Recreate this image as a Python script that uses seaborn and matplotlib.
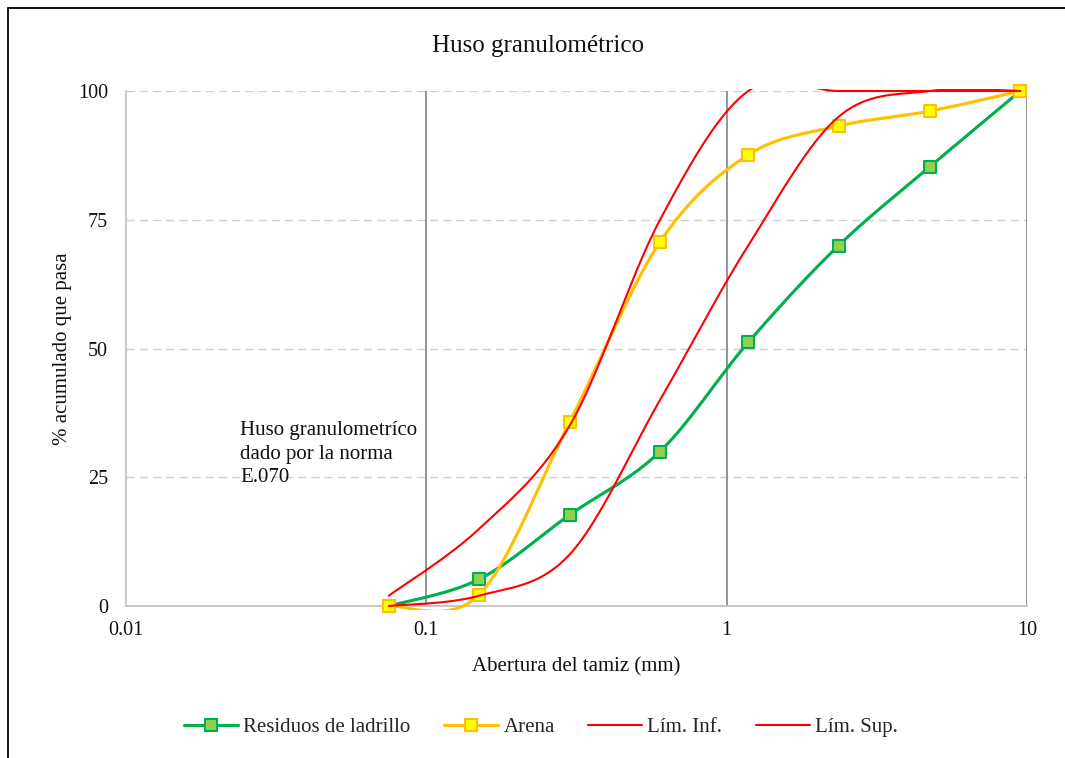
import numpy as np
import pandas as pd
import matplotlib
matplotlib.use("Agg")
import matplotlib.pyplot as plt
from matplotlib.lines import Line2D
from matplotlib.transforms import Bbox, TransformedBbox
import seaborn as sns

# Sieve openings (mm) and cumulative % passing
tamiz = [0.075, 0.15, 0.3, 0.6, 1.18, 2.36, 4.75, 9.5]
ladrillo = [0.0, 5.2, 17.7, 30.0, 51.2, 70.0, 85.3, 100.0]
arena = [0.0, 2.2, 35.7, 70.7, 87.6, 93.2, 96.1, 100.0]
lim_inf = [0.0, 2.0, 10.0, 40.0, 70.0, 95.0, 100.0, 100.0]
lim_sup = [2.0, 15.0, 35.0, 75.0, 100.0, 100.0, 100.0, 100.0]

x_ticks = [0.01, 0.1, 1, 10]
x_tick_labels = ["0.01", "0.1", "1", "10"]
y_ticks = [0, 25, 50, 75, 100]

sns.set_theme(style="white")
plt.rcParams["font.family"] = ["Liberation Serif", "DejaVu Serif"]


def smooth_curve(x, y, n=60):
    """Cubic Bezier smoothing through the points (log-x space)."""
    P = np.column_stack([np.log10(x), np.asarray(y, float)])
    segs = []
    for i in range(len(P) - 1):
        p0 = P[i - 1] if i > 0 else P[i]
        p1, p2 = P[i], P[i + 1]
        p3 = P[i + 2] if i + 2 < len(P) else P[i + 1]
        c1 = p1 + (p2 - p0) / 6.0
        c2 = p2 - (p3 - p1) / 6.0
        t = np.linspace(0, 1, n)[:, None]
        seg = ((1 - t) ** 3) * p1 + 3 * ((1 - t) ** 2) * t * c1 \
            + 3 * (1 - t) * (t ** 2) * c2 + (t ** 3) * p2
        segs.append(seg if i == 0 else seg[1:])
    pts = np.vstack(segs)
    return pd.DataFrame({"x": 10 ** pts[:, 0], "y": pts[:, 1]})


fig = plt.figure(figsize=(10.65, 7.58), dpi=100)
ax = fig.add_axes([126 / 1065, 1 - 606 / 758, 901 / 1065, 515 / 758])
ax.set_xscale("log")
ax.set_xlim(0.01, 10)
ax.set_ylim(0, 100)

# plot-area clip, slightly padded so lines on the edges stay whole
clip = TransformedBbox(Bbox([[0, -0.007], [1, 1.004]]), ax.transAxes)

# grid
for yv in y_ticks[1:]:
    ax.axhline(yv, color="#CFCFCF", lw=1.0, ls=(0, (6, 3.5)), zorder=0)
for xv in x_ticks[1:]:
    ax.axvline(xv, color="#8C8C8C", lw=1.3, zorder=0.5)

for side in ["top", "right"]:
    ax.spines[side].set_visible(False)
for side in ["left", "bottom"]:
    ax.spines[side].set_color("#C4C4C4")
    ax.spines[side].set_linewidth(1.3)

series = [
    ("Residuos de ladrillo", ladrillo, "#00B050", "#92D050", 2.25, True),
    ("Arena", arena, "#FFC000", "#FFFF00", 2.25, True),
    ("Lím. Inf.", lim_inf, "#FF0000", None, 1.5, False),
    ("Lím. Sup.", lim_sup, "#FF0000", None, 1.5, False),
]

handles = []
for k, (name, vals, col, fill, lw, mk) in enumerate(series):
    curve = smooth_curve(tamiz, vals)
    n_before = len(ax.lines)
    sns.lineplot(data=curve, x="x", y="y", ax=ax, color=col, lw=lw,
                 sort=False, estimator=None, zorder=3 + k)
    for ln in ax.lines[n_before:]:
        ln.set_clip_box(clip)
    if mk:
        sns.scatterplot(x=tamiz, y=vals, ax=ax, marker="s", s=80,
                        color=fill, edgecolor=col, linewidth=1.5,
                        zorder=3.5 + k, clip_on=False)
        handles.append(Line2D([], [], color=col, lw=lw, marker="s",
                              markersize=8.5, markerfacecolor=fill,
                              markeredgecolor=col, markeredgewidth=1.5,
                              label=name))
    else:
        handles.append(Line2D([], [], color=col, lw=lw, label=name))

ax.set_xticks(x_ticks)
ax.set_xticklabels(x_tick_labels)
ax.xaxis.set_minor_locator(matplotlib.ticker.NullLocator())
ax.set_yticks(y_ticks)
ax.tick_params(axis="x", length=0, pad=11, labelsize=14.5, colors="#111111")
ax.tick_params(axis="y", length=0, pad=13, labelsize=14.5, colors="#111111")

ax.set_xlabel("Abertura del tamiz (mm)", fontsize=15, labelpad=12,
              color="#111111")
ax.set_ylabel("% acumulado que pasa", fontsize=15, labelpad=4,
              color="#111111")

fig.text(538 / 1065, 1 - 46 / 758, "Huso granulométrico", fontsize=18,
         ha="center", va="center", color="#111111")

ax.text(0.1265, 0.295, "Huso granulometríco\ndado por la norma\nE.070",
        transform=ax.transAxes, fontsize=15, ha="left", va="center",
        linespacing=1.3, color="#111111")

fig.legend(handles=handles, loc="center", bbox_to_anchor=(0.508, 0.04),
           ncol=4, frameon=False, fontsize=15, handlelength=2.6,
           handletextpad=0.25, columnspacing=1.6)

# chart area border
fig.add_artist(Line2D([8 / 1065, 8 / 1065], [0, 1 - 8 / 758],
                      transform=fig.transFigure, color="black", lw=1.3))
fig.add_artist(Line2D([8 / 1065, 1], [1 - 8 / 758, 1 - 8 / 758],
                      transform=fig.transFigure, color="black", lw=1.3))

fig.savefig("out.png", dpi=100)
